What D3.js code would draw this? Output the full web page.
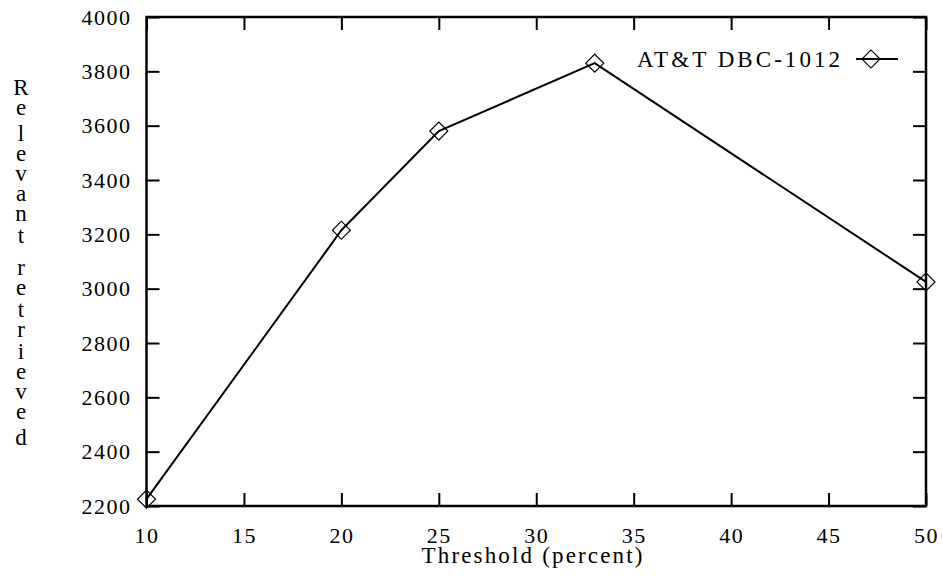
<!DOCTYPE html>
<html>
<head>
<meta charset="utf-8">
<script src="https://cdn.jsdelivr.net/npm/d3@7"></script>
<style>
  html, body { margin: 0; padding: 0; background: #fff; }
  svg { display: block; font-family: "Liberation Serif", "Times New Roman", serif; }
</style>
</head>
<body>
<svg id="chart" width="942" height="579"></svg>
<script>
"use strict";

// values
const thresholds = [10, 20, 25, 33, 50];
const relevantRetrieved = [2225, 3215, 3580, 3830, 3025];
const xTicks = [10, 15, 20, 25, 30, 35, 40, 45, 50];
const yTicks = [2200, 2400, 2600, 2800, 3000, 3200, 3400, 3600, 3800, 4000];
const seriesName = "AT&T DBC-1012";
const xLabel = "Threshold (percent)";
const yLabel = "Relevant retrieved";

const margin = {top: 17, right: 16, bottom: 73, left: 146.5};
const width = 942, height = 579;
const fontSize = 22;
const titleSize = 23;
const tickLen = 13;
const serif = '"Liberation Serif", "Times New Roman", serif';

const svg = d3.select("#chart");
const g = svg.append("g").attr("transform", `translate(${margin.left},${margin.top})`);
const w = width - margin.left - margin.right;
const h = height - margin.top - margin.bottom;

const x = d3.scaleLinear().domain([10, 50]).range([0, w]);
const y = d3.scaleLinear().domain([2200, 4000]).range([h, 0]);

function styleAxis(sel) {
    sel.select(".domain").remove();
    sel.selectAll(".tick line").attr("stroke", "#000").attr("stroke-width", 2);
    sel.selectAll(".tick text")
        .attr("fill", "#000")
        .style("font-family", serif)
        .style("font-size", fontSize + "px")
        .style("letter-spacing", "1.5px");
}

// axes, ticks pointing inward on all four sides
g.append("g")
    .attr("transform", `translate(0,${h})`)
    .call(d3.axisBottom(x).tickValues(xTicks).tickFormat(d3.format("d"))
        .tickSizeInner(-tickLen).tickSizeOuter(0).tickPadding(21))
    .call(styleAxis);

g.append("g")
    .call(d3.axisTop(x).tickValues(xTicks).tickSizeInner(-tickLen).tickSizeOuter(0).tickFormat(""))
    .call(styleAxis);

g.append("g")
    .call(d3.axisLeft(y).tickValues(yTicks).tickFormat(d3.format("d"))
        .tickSizeInner(-tickLen).tickSizeOuter(0).tickPadding(15))
    .call(styleAxis);

g.append("g")
    .attr("transform", `translate(${w},0)`)
    .call(d3.axisRight(y).tickValues(yTicks).tickSizeInner(-tickLen).tickSizeOuter(0).tickFormat(""))
    .call(styleAxis);

// plot border
g.append("rect")
    .attr("width", w).attr("height", h)
    .attr("fill", "none").attr("stroke", "#000").attr("stroke-width", 2.5);

// data line
const points = thresholds.map((t, i) => [t, relevantRetrieved[i]]);

g.append("path")
    .datum(points)
    .attr("d", d3.line().x(d => x(d[0])).y(d => y(d[1])))
    .attr("fill", "none").attr("stroke", "#000").attr("stroke-width", 2);

const diamond = d3.symbol().type(d3.symbolSquare).size(162);

g.selectAll("path.pt")
    .data(points)
    .enter().append("path")
        .attr("class", "pt")
        .attr("d", diamond)
        .attr("transform", d => `translate(${x(d[0])},${y(d[1])}) rotate(45)`)
        .attr("fill", "none").attr("stroke", "#000").attr("stroke-width", 1.2);

// legend (top right, inside the plot)
const legend = svg.append("g");
legend.append("text")
    .attr("x", 840).attr("y", 66.5)
    .attr("text-anchor", "end")
    .attr("textLength", 203).attr("lengthAdjust", "spacing")
    .style("font-size", titleSize + "px")
    .text(seriesName);
legend.append("line")
    .attr("x1", 856).attr("x2", 898).attr("y1", 59).attr("y2", 59)
    .attr("stroke", "#000").attr("stroke-width", 2);
legend.append("path")
    .attr("d", diamond)
    .attr("transform", "translate(871,59) rotate(45)")
    .attr("fill", "none").attr("stroke", "#000").attr("stroke-width", 1.2);

// x axis title
svg.append("text")
    .attr("x", 532).attr("y", 563)
    .attr("text-anchor", "middle")
    .attr("textLength", 221).attr("lengthAdjust", "spacing")
    .style("font-size", titleSize + "px")
    .text(xLabel);

// y axis title, letters stacked one below the other
const tall = "RldbhkfT";
let baseline = 95;
const yl = svg.append("text")
    .attr("text-anchor", "middle")
    .style("font-size", titleSize + "px");
yLabel.split("").forEach(function(ch, i) {
    if (ch === " ") { baseline += 12; return; }
    if (i > 0) baseline += tall.includes(ch) ? 26 : ("ti".includes(ch) ? 22 : 20);
    yl.append("tspan").attr("x", 21).attr("y", baseline).text(ch);
});
</script>
</body>
</html>
